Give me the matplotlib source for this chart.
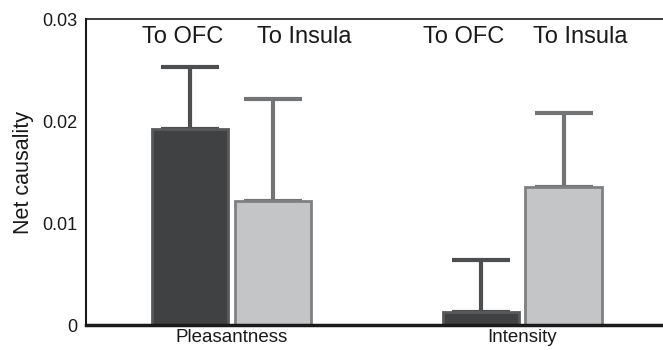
import matplotlib
matplotlib.use("Agg")
import matplotlib.pyplot as plt
import numpy as np

plt.rcParams['font.family'] = ['Liberation Sans', 'DejaVu Sans']

groups = ["Pleasantness", "Intensity"]
series = ["To OFC", "To Insula"]
means_ofc = [0.0192, 0.0013]
means_insula = [0.0122, 0.0135]
err_ofc = [0.0061, 0.0051]
err_insula = [0.0100, 0.0073]
yticks = [0, 0.01, 0.02, 0.03]
ytick_labels = ["0", "0.01", "0.02", "0.03"]

fig = plt.figure(figsize=(6.63, 3.5), dpi=100)
ax = fig.add_axes([86/663, 25/350, (663-86)/663, (325-19)/350])

x = np.arange(1, len(groups) + 1)
w = 0.262
off = 0.142

fills = ["#404142", "#c4c5c7"]
edges = ["#58595b", "#7f8081"]
errc = ["#4d4e50", "#737476"]

for i, (m, e) in enumerate([(means_ofc, err_ofc), (means_insula, err_insula)]):
    xs = x + (-off if i == 0 else off)
    ax.errorbar(xs, m, yerr=[np.zeros(len(m)), e], fmt='none', ecolor=errc[i],
                elinewidth=3, capsize=21, capthick=3, zorder=1)
    ax.bar(xs, m, width=w, color=fills[i], edgecolor=edges[i], linewidth=2, zorder=2)

label_offsets = [(-0.168, 0.25), (-0.2, 0.2)]
for gi in range(len(groups)):
    for si in range(len(series)):
        ax.text(x[gi] + label_offsets[gi][si], 0.0282, series[si], ha='center', va='center',
                fontsize=17, color='#1a1a1a')

ax.set_xlim(0.5, 2.484)
ax.set_ylim(0, 0.03)
ax.set_yticks(yticks)
ax.set_yticklabels(ytick_labels, fontsize=13)
ax.set_xticks(x)
ax.set_xticklabels(groups, fontsize=13.5)
ax.tick_params(axis='both', length=0, colors='#1a1a1a')
ax.tick_params(axis='y', pad=6)
ax.tick_params(axis='x', pad=3)
ax.set_ylabel("Net causality", fontsize=15.5, color='#1a1a1a', labelpad=6)

ax.spines['right'].set_visible(False)
ax.spines['top'].set_linewidth(1.2)
ax.spines['left'].set_linewidth(1.5)
ax.spines['bottom'].set_linewidth(2.5)
for s in ax.spines.values():
    s.set_color('#1a1a1a')

fig.savefig("out.png", dpi=100)
